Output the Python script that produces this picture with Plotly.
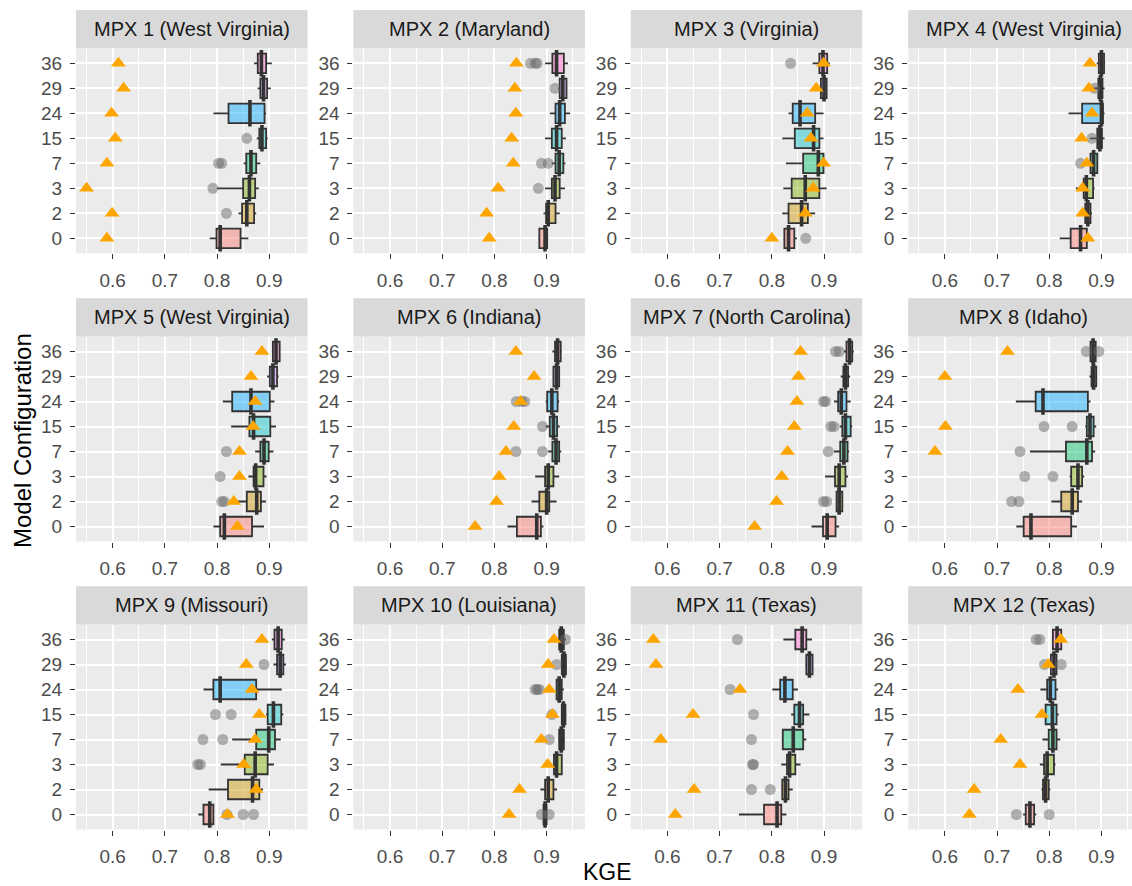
import plotly.graph_objects as go

W, H = 1132, 886

CONFIGS = ["0", "2", "3", "7", "15", "24", "29", "36"]
PANELS = ["MPX 1 (West Virginia)", "MPX 2 (Maryland)", "MPX 3 (Virginia)", "MPX 4 (West Virginia)",
          "MPX 5 (West Virginia)", "MPX 6 (Indiana)", "MPX 7 (North Carolina)", "MPX 8 (Idaho)",
          "MPX 9 (Missouri)", "MPX 10 (Louisiana)", "MPX 11 (Texas)", "MPX 12 (Texas)"]
X_TICKS = [0.6, 0.7, 0.8, 0.9]
X_MINOR = [0.55, 0.65, 0.75, 0.85, 0.95]

# Box statistics of KGE per site (rows) and model configuration (columns, same order as CONFIGS)
LOWER = [
    [0.786, 0.841, 0.800, 0.851, 0.876, 0.793, 0.878, 0.871],
    [0.884, 0.894, 0.897, 0.910, 0.897, 0.906, 0.922, 0.897],
    [0.822, 0.820, 0.822, 0.827, 0.820, 0.832, 0.893, 0.878],
    [0.820, 0.866, 0.851, 0.876, 0.878, 0.837, 0.884, 0.891],
    [0.793, 0.832, 0.860, 0.873, 0.827, 0.811, 0.896, 0.905],
    [0.825, 0.871, 0.878, 0.903, 0.898, 0.898, 0.911, 0.911],
    [0.876, 0.922, 0.902, 0.919, 0.930, 0.919, 0.932, 0.938],
    [0.737, 0.804, 0.839, 0.763, 0.869, 0.736, 0.877, 0.877],
    [0.764, 0.784, 0.807, 0.829, 0.894, 0.774, 0.908, 0.905],
    [0.893, 0.888, 0.913, 0.922, 0.927, 0.917, 0.927, 0.922],
    [0.737, 0.818, 0.818, 0.819, 0.837, 0.801, 0.864, 0.822],
    [0.750, 0.785, 0.782, 0.787, 0.788, 0.783, 0.801, 0.805],
]
Q1 = [
    [0.799, 0.848, 0.850, 0.856, 0.881, 0.822, 0.883, 0.878],
    [0.886, 0.899, 0.910, 0.917, 0.910, 0.917, 0.925, 0.911],
    [0.824, 0.832, 0.838, 0.860, 0.844, 0.840, 0.894, 0.891],
    [0.841, 0.869, 0.866, 0.879, 0.892, 0.863, 0.894, 0.895],
    [0.806, 0.857, 0.870, 0.883, 0.862, 0.829, 0.901, 0.907],
    [0.843, 0.886, 0.897, 0.911, 0.906, 0.901, 0.913, 0.916],
    [0.898, 0.924, 0.921, 0.931, 0.935, 0.927, 0.937, 0.943],
    [0.751, 0.823, 0.842, 0.832, 0.872, 0.774, 0.881, 0.879],
    [0.774, 0.821, 0.853, 0.875, 0.897, 0.793, 0.915, 0.910],
    [0.894, 0.897, 0.914, 0.924, 0.929, 0.919, 0.929, 0.924],
    [0.785, 0.820, 0.829, 0.821, 0.843, 0.816, 0.866, 0.845],
    [0.755, 0.788, 0.790, 0.799, 0.793, 0.796, 0.803, 0.807],
]
MEDIAN = [
    [0.806, 0.857, 0.862, 0.865, 0.886, 0.863, 0.889, 0.885],
    [0.897, 0.903, 0.916, 0.924, 0.919, 0.925, 0.931, 0.919],
    [0.832, 0.857, 0.864, 0.889, 0.880, 0.854, 0.900, 0.898],
    [0.860, 0.874, 0.871, 0.885, 0.897, 0.900, 0.898, 0.900],
    [0.814, 0.876, 0.874, 0.890, 0.870, 0.865, 0.907, 0.913],
    [0.881, 0.900, 0.903, 0.918, 0.913, 0.910, 0.919, 0.921],
    [0.906, 0.929, 0.929, 0.938, 0.941, 0.933, 0.941, 0.949],
    [0.765, 0.844, 0.855, 0.872, 0.878, 0.788, 0.885, 0.884],
    [0.786, 0.868, 0.873, 0.899, 0.908, 0.806, 0.921, 0.917],
    [0.897, 0.903, 0.919, 0.928, 0.932, 0.924, 0.933, 0.928],
    [0.810, 0.826, 0.834, 0.841, 0.853, 0.825, 0.872, 0.858],
    [0.763, 0.793, 0.796, 0.807, 0.806, 0.802, 0.809, 0.815],
]
Q3 = [
    [0.845, 0.871, 0.873, 0.875, 0.894, 0.891, 0.896, 0.894],
    [0.901, 0.917, 0.925, 0.932, 0.929, 0.935, 0.938, 0.933],
    [0.843, 0.869, 0.891, 0.899, 0.891, 0.883, 0.905, 0.906],
    [0.872, 0.879, 0.884, 0.892, 0.901, 0.903, 0.902, 0.905],
    [0.867, 0.884, 0.889, 0.899, 0.902, 0.901, 0.915, 0.920],
    [0.889, 0.905, 0.913, 0.924, 0.920, 0.921, 0.924, 0.927],
    [0.922, 0.935, 0.941, 0.945, 0.951, 0.943, 0.946, 0.954],
    [0.842, 0.855, 0.863, 0.882, 0.885, 0.874, 0.890, 0.889],
    [0.793, 0.881, 0.897, 0.911, 0.923, 0.875, 0.927, 0.924],
    [0.900, 0.913, 0.929, 0.933, 0.936, 0.929, 0.937, 0.933],
    [0.818, 0.832, 0.845, 0.860, 0.860, 0.840, 0.878, 0.866],
    [0.771, 0.799, 0.809, 0.814, 0.814, 0.812, 0.814, 0.823],
]
UPPER = [
    [0.860, 0.875, 0.880, 0.883, 0.897, 0.894, 0.903, 0.905],
    [0.903, 0.925, 0.935, 0.936, 0.937, 0.945, 0.940, 0.941],
    [0.848, 0.883, 0.905, 0.902, 0.899, 0.899, 0.906, 0.911],
    [0.872, 0.882, 0.887, 0.894, 0.906, 0.906, 0.906, 0.907],
    [0.890, 0.894, 0.895, 0.908, 0.913, 0.910, 0.918, 0.921],
    [0.894, 0.919, 0.924, 0.928, 0.925, 0.924, 0.925, 0.929],
    [0.929, 0.937, 0.946, 0.948, 0.954, 0.951, 0.950, 0.957],
    [0.853, 0.863, 0.867, 0.888, 0.890, 0.879, 0.892, 0.891],
    [0.793, 0.888, 0.909, 0.922, 0.927, 0.924, 0.932, 0.930],
    [0.901, 0.920, 0.930, 0.935, 0.938, 0.933, 0.938, 0.937],
    [0.828, 0.840, 0.855, 0.866, 0.872, 0.850, 0.879, 0.877],
    [0.775, 0.802, 0.812, 0.821, 0.818, 0.817, 0.815, 0.825],
]
OUTLIERS = [
    [[], [0.818], [0.792], [0.803, 0.809], [0.857], [], [], []],
    [[], [], [0.884], [0.890, 0.903], [], [], [0.916], [0.869, 0.878, 0.882]],
    [[0.865], [], [], [], [], [], [], [0.836]],
    [[], [], [], [0.860], [0.882], [], [0.887], []],
    [[], [0.809, 0.814], [0.806], [0.818], [], [], [], []],
    [[], [], [], [0.841, 0.892], [0.892], [0.842, 0.852, 0.858], [], []],
    [[], [0.899, 0.905], [], [0.908], [0.913, 0.919], [0.899, 0.903], [], [0.922, 0.929]],
    [[], [0.728, 0.742], [0.753, 0.807], [0.744], [0.790, 0.844], [], [], [0.871, 0.895]],
    [[0.819, 0.850, 0.870], [], [0.763, 0.768], [0.773, 0.811], [0.797, 0.827], [], [0.890], []],
    [[0.890, 0.905], [], [], [0.905], [0.910], [0.878, 0.882, 0.886], [0.919], [0.936]],
    [[], [0.761, 0.797], [0.763, 0.765], [0.761], [0.765], [0.720], [], [0.734]],
    [[0.737, 0.800], [], [], [], [], [], [0.791, 0.823], [0.775, 0.782]],
]
# Reference KGE of the benchmark model (None = outside the plotted range)
BENCHMARK = [
    [0.589, 0.599, 0.550, 0.589, 0.605, 0.598, 0.621, 0.611],
    [0.790, 0.785, 0.807, 0.836, 0.833, 0.841, 0.839, 0.842],
    [0.800, 0.864, 0.879, 0.899, 0.875, 0.868, 0.885, 0.899],
    [0.874, 0.864, 0.864, 0.872, 0.862, 0.882, 0.876, 0.878],
    [0.839, 0.832, 0.843, 0.843, 0.869, 0.873, 0.865, 0.886],
    [0.763, 0.804, 0.809, 0.822, 0.837, 0.850, 0.876, 0.841],
    [0.767, 0.809, 0.819, 0.830, 0.843, 0.848, 0.851, 0.855],
    [None, None, None, 0.581, 0.601, None, 0.600, 0.720],
    [0.820, 0.875, 0.851, 0.873, 0.881, 0.867, 0.856, 0.886],
    [0.828, 0.848, 0.902, 0.890, 0.911, 0.905, 0.903, 0.914],
    [0.615, 0.651, None, 0.587, 0.649, 0.739, 0.578, 0.573],
    [0.647, 0.656, 0.744, 0.707, 0.786, 0.740, 0.798, 0.822],
]

FILLS = ["rgba(248,118,109,0.45)", "rgba(205,150,0,0.45)", "rgba(124,174,0,0.45)", "rgba(0,190,103,0.45)",
         "rgba(0,191,196,0.45)", "rgba(0,169,255,0.45)", "rgba(199,124,255,0.45)", "rgba(255,97,204,0.45)"]

# panel geometry (pixels)
X_LO = 0.5298
PX_PER_UNIT = 522.0
COL_LEFT = [76.0, 353.4, 630.8, 908.2]
PANEL_W = 231.5
ROW_TOP = [48.3, 336.5, 624.5]
PANEL_H = 205.0
STRIP_H = 38.3

FONT = "Liberation Sans, Arial, sans-serif"
fig = go.Figure()
layout = dict(
    width=W, height=H, margin=dict(l=0, r=0, t=0, b=0),
    paper_bgcolor="white", plot_bgcolor="#EBEBEB", showlegend=False,
    font=dict(family=FONT), shapes=[], annotations=[],
)

for p, title in enumerate(PANELS):
    r, c = divmod(p, 4)
    left = COL_LEFT[c]
    right = min(left + PANEL_W, W)
    top = ROW_TOP[r]
    bottom = top + PANEL_H
    xid = "x" if p == 0 else f"x{p + 1}"
    yid = "y" if p == 0 else f"y{p + 1}"
    xname = "xaxis" if p == 0 else f"xaxis{p + 1}"
    yname = "yaxis" if p == 0 else f"yaxis{p + 1}"

    for k, cfg in enumerate(CONFIGS):
        fig.add_trace(go.Box(
            y=[cfg], q1=[Q1[p][k]], median=[MEDIAN[p][k]], q3=[Q3[p][k]],
            lowerfence=[LOWER[p][k]], upperfence=[UPPER[p][k]],
            orientation="h", width=0.78, whiskerwidth=0, boxpoints=False,
            fillcolor=FILLS[k], line=dict(color="#333333", width=1.8),
            xaxis=xid, yaxis=yid, hoverinfo="skip",
        ))

    # thick median bars
    fig.add_trace(go.Scatter(
        x=MEDIAN[p], y=CONFIGS, mode="markers",
        marker=dict(symbol="line-ns", size=19, line=dict(color="#333333", width=3.6)),
        xaxis=xid, yaxis=yid, hoverinfo="skip",
    ))

    ox, oy = [], []
    for k, cfg in enumerate(CONFIGS):
        for v in OUTLIERS[p][k]:
            ox.append(v)
            oy.append(cfg)
    fig.add_trace(go.Scatter(
        x=ox, y=oy, mode="markers",
        marker=dict(symbol="circle", size=11, color="rgba(105,105,105,0.5)", line=dict(width=0)),
        xaxis=xid, yaxis=yid, hoverinfo="skip",
    ))

    bx = [v for v in BENCHMARK[p] if v is not None]
    by = [cfg for v, cfg in zip(BENCHMARK[p], CONFIGS) if v is not None]
    fig.add_trace(go.Scatter(
        x=bx, y=by, mode="markers",
        marker=dict(symbol="triangle-up", size=13, color="#FFA500", line=dict(width=0)),
        xaxis=xid, yaxis=yid, hoverinfo="skip",
    ))

    x_hi = X_LO + (right - left) / PX_PER_UNIT
    layout[xname] = dict(
        domain=[left / W, right / W], anchor=yid, range=[X_LO, x_hi],
        tickmode="array", tickvals=X_TICKS, ticktext=[f"{v:.1f}" for v in X_TICKS],
        ticks="outside", ticklen=5, tickwidth=1.4, tickcolor="#333333", ticklabelstandoff=5,
        tickfont=dict(size=19, color="#4D4D4D", family=FONT),
        showgrid=True, gridcolor="white", gridwidth=2.2, zeroline=False, showline=False,
        minor=dict(tickmode="array", tickvals=X_MINOR, showgrid=True, gridcolor="white",
                   gridwidth=1.1, ticklen=0),
        fixedrange=True,
    )
    layout[yname] = dict(
        domain=[1 - bottom / H, 1 - top / H], anchor=xid,
        type="category", categoryorder="array", categoryarray=CONFIGS, range=[-0.6, 7.6],
        ticks="outside", ticklen=5, tickwidth=1.4, tickcolor="#333333", ticklabelstandoff=4,
        tickfont=dict(size=19, color="#4D4D4D", family=FONT),
        showgrid=True, gridcolor="white", gridwidth=2.2, zeroline=False, showline=False,
        fixedrange=True,
    )

    # facet strip
    layout["shapes"].append(dict(
        type="rect", xref="paper", yref="paper", layer="below",
        x0=left / W, x1=right / W, y0=1 - top / H, y1=1 - (top - STRIP_H) / H,
        fillcolor="#D9D9D9", line=dict(width=0),
    ))
    layout["annotations"].append(dict(
        text=title, xref="paper", yref="paper",
        x=(left + PANEL_W / 2) / W, y=1 - (top - STRIP_H / 2) / H,
        xanchor="center", yanchor="middle", showarrow=False,
        font=dict(size=20, color="#1A1A1A", family=FONT),
    ))

layout["annotations"].append(dict(
    text="KGE", xref="paper", yref="paper", x=607 / W, y=1 - 872 / H,
    xanchor="center", yanchor="middle", showarrow=False,
    font=dict(size=23, color="black", family=FONT),
))
layout["annotations"].append(dict(
    text="Model Configuration", xref="paper", yref="paper", x=22 / W, y=1 - 441 / H,
    xanchor="center", yanchor="middle", showarrow=False, textangle=-90,
    font=dict(size=24, color="black", family=FONT),
))

fig.update_layout(**layout)
fig.write_html("out.html")
